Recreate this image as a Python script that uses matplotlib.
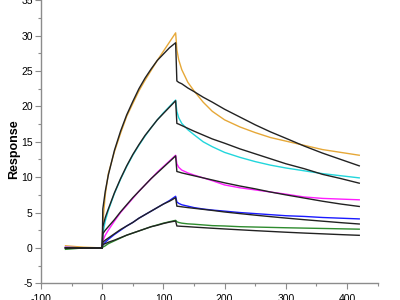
"""
Sensorgram: five binding curves (coloured) with their black fit lines.
"""

import numpy as np
from matplotlib import pyplot as plt
from matplotlib.ticker import MultipleLocator

plt.rcParams["font.family"] = ["Liberation Sans", "DejaVu Sans"]
plt.rcParams["axes.unicode_minus"] = False

# time grids (s)
t_assoc = [-60, -30, 0, 1, 5, 10, 20, 30, 40, 50, 60, 70, 80, 90, 100, 110, 120]
t_dissoc = [122, 125, 130, 140, 150, 165, 180, 200, 225, 250, 275, 300, 330, 360, 390, 420]

# measured responses, association then dissociation
orange_assoc = [0.3, 0.1, 0.0, 3.5, 7.5, 10.5, 13.6, 16.2, 18.6, 20.4, 22.2, 23.7, 25.1, 26.5, 27.8, 29.1, 30.4]
orange_dissoc = [28.0, 26.6, 25.2, 23.4, 22.2, 20.6, 19.3, 18.1, 17.1, 16.3, 15.6, 15.1, 14.5, 13.9, 13.5, 13.1]
cyan_assoc = [0.1, 0.0, 0.0, 2.0, 3.8, 5.3, 7.7, 9.7, 11.5, 13.1, 14.5, 15.8, 17.0, 18.1, 19.1, 20.0, 20.9]
cyan_dissoc = [19.3, 18.4, 17.6, 16.7, 16.0, 15.0, 14.3, 13.5, 12.8, 12.2, 11.7, 11.3, 10.9, 10.5, 10.2, 9.9]
magenta_assoc = [0.1, 0.0, 0.0, 1.0, 1.8, 2.5, 3.8, 5.0, 6.0, 7.0, 8.0, 8.9, 9.8, 10.7, 11.5, 12.3, 13.1]
magenta_dissoc = [11.9, 11.4, 11.0, 10.6, 10.3, 9.9, 9.5, 8.9, 8.5, 8.2, 7.9, 7.6, 7.2, 7.0, 6.9, 6.8]
blue_assoc = [0.0, 0.0, 0.0, 0.4, 0.8, 1.2, 1.9, 2.5, 3.1, 3.6, 4.2, 4.7, 5.2, 5.7, 6.2, 6.7, 7.3]
blue_dissoc = [6.5, 6.3, 6.1, 5.9, 5.7, 5.5, 5.35, 5.2, 5.0, 4.85, 4.7, 4.55, 4.45, 4.3, 4.2, 4.1]
green_assoc = [-0.2, 0.0, 0.0, 0.1, 0.3, 0.6, 1.0, 1.4, 1.8, 2.1, 2.4, 2.7, 3.0, 3.25, 3.5, 3.7, 3.9]
green_dissoc = [3.7, 3.6, 3.5, 3.4, 3.35, 3.25, 3.15, 3.1, 3.0, 2.95, 2.9, 2.85, 2.8, 2.75, 2.7, 2.65]

# fitted curves
fit1_assoc = [0.0, 0.0, 0.0, 5.5, 8.0, 10.3, 13.8, 16.5, 18.8, 20.7, 22.5, 24.0, 25.3, 26.5, 27.4, 28.3, 29.0]
fit1_dissoc = [23.6, 23.4, 23.2, 22.6, 22.1, 21.3, 20.6, 19.6, 18.5, 17.4, 16.4, 15.5, 14.4, 13.4, 12.5, 11.6]
fit2_assoc = [0.0, 0.0, 0.0, 3.0, 4.3, 5.5, 7.8, 9.8, 11.6, 13.2, 14.6, 15.9, 17.0, 18.1, 19.0, 19.9, 20.8]
fit2_dissoc = [17.6, 17.5, 17.3, 16.9, 16.5, 15.95, 15.4, 14.8, 14.0, 13.3, 12.6, 11.9, 11.2, 10.4, 9.8, 9.15]
fit3_assoc = [0.0, 0.0, 0.0, 2.0, 2.5, 3.0, 4.0, 5.1, 6.1, 7.1, 8.0, 8.9, 9.8, 10.6, 11.4, 12.2, 13.0]
fit3_dissoc = [10.8, 10.73, 10.6, 10.4, 10.2, 9.9, 9.6, 9.2, 8.75, 8.35, 7.9, 7.5, 7.05, 6.6, 6.2, 5.86]
fit4_assoc = [0.0, 0.0, 0.0, 0.8, 1.1, 1.4, 2.0, 2.6, 3.1, 3.6, 4.2, 4.7, 5.2, 5.7, 6.2, 6.6, 7.1]
fit4_dissoc = [5.9, 5.87, 5.81, 5.7, 5.6, 5.45, 5.3, 5.08, 4.85, 4.63, 4.42, 4.22, 3.99, 3.78, 3.57, 3.38]
fit5_assoc = [0.0, 0.0, 0.0, 0.5, 0.6, 0.8, 1.1, 1.45, 1.8, 2.1, 2.4, 2.7, 3.0, 3.2, 3.45, 3.65, 3.8]
fit5_dissoc = [3.1, 3.08, 3.05, 3.0, 2.94, 2.86, 2.78, 2.68, 2.56, 2.44, 2.33, 2.22, 2.10, 1.99, 1.88, 1.78]

data_series = [
    (orange_assoc, orange_dissoc, "#e6a838"),
    (cyan_assoc, cyan_dissoc, "#22d6dc"),
    (magenta_assoc, magenta_dissoc, "#ff1cff"),
    (blue_assoc, blue_dissoc, "#1a1aff"),
    (green_assoc, green_dissoc, "#2e8b2e"),
]
fit_series = [
    (fit1_assoc, fit1_dissoc),
    (fit2_assoc, fit2_dissoc),
    (fit3_assoc, fit3_dissoc),
    (fit4_assoc, fit4_dissoc),
    (fit5_assoc, fit5_dissoc),
]

t_all = np.array(t_assoc + t_dissoc)

fig = plt.figure(figsize=(4, 3), dpi=100)
ax = fig.add_axes([0.1025, 0.0557, 0.8415, 0.9433])

for assoc, dissoc, color in data_series:
    ax.plot(t_all, assoc + dissoc, "-", color=color, lw=1.0)
for assoc, dissoc in fit_series:
    ax.plot(t_all, assoc + dissoc, "-", color="#222222", lw=1.0)

ax.set_xlim(-100, 450)
ax.set_ylim(-5, 35)
ax.xaxis.set_major_locator(MultipleLocator(100))
ax.xaxis.set_minor_locator(MultipleLocator(50))
ax.yaxis.set_major_locator(MultipleLocator(5))
ax.yaxis.set_minor_locator(MultipleLocator(2.5))

for side in ("top", "right"):
    ax.spines[side].set_visible(False)
for side in ("left", "bottom"):
    ax.spines[side].set_color("#8c8c8c")
    ax.spines[side].set_linewidth(1.0)

ax.tick_params(which="major", direction="out", length=4, width=0.8,
               color="#8c8c8c", labelsize=7.5, pad=2)
ax.tick_params(which="minor", direction="out", length=2, width=0.8,
               color="#8c8c8c")
ax.tick_params(axis="x", which="major", pad=3.5)

ax.set_ylabel("Response", fontsize=9, fontweight="bold")
ax.yaxis.set_label_coords(-0.062, 0.473)

fig.savefig("out.png", dpi=100)
